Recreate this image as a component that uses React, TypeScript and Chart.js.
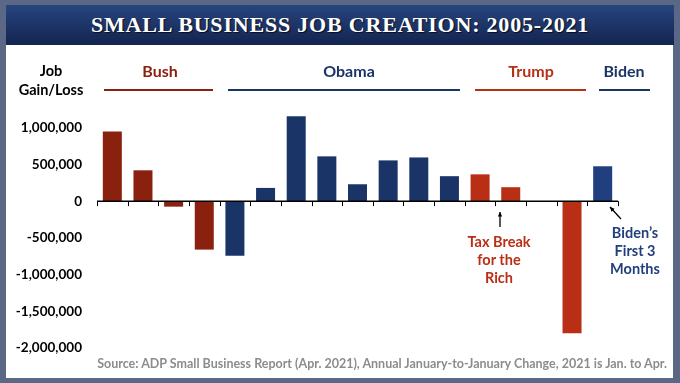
import React, { useEffect, useRef } from "react";
import { Chart, registerables } from "chart.js";

Chart.register(...registerables);

const years = ["2005","2006","2007","2008","2009","2010","2011","2012","2013","2014","2015","2016","2017","2018","2019","2020","2021"];
const jobChange: (number | null)[] = [950000, 420000, -75000, -660000, -745000, 180000, 1155000, 610000, 230000, 555000, 595000, 340000, 365000, 190000, null, -1800000, 475000];
const president = ["Bush","Bush","Bush","Bush","Obama","Obama","Obama","Obama","Obama","Obama","Obama","Obama","Trump","Trump","Trump","Trump","Biden"];
const presidentColors: Record<string, string> = {
  Bush: "#8a200e",
  Obama: "#1b3468",
  Trump: "#b92f15",
  Biden: "#213f7e",
};
const yTicks = [-2000000, -1500000, -1000000, -500000, 0, 500000, 1000000];

const FONT = "Lato, 'Open Sans', sans-serif";

const axisPlugin = {
  id: "zeroAxis",
  afterDatasetsDraw(chart: any) {
    const { ctx, scales, chartArea } = chart;
    const y0 = scales.y.getPixelForValue(0);
    const xs = scales.x;
    ctx.save();
    ctx.strokeStyle = "#000";
    ctx.lineWidth = 1.5;
    ctx.beginPath();
    ctx.moveTo(chartArea.left, y0);
    ctx.lineTo(chartArea.right, y0);
    ctx.stroke();
    ctx.lineWidth = 1;
    const n = years.length;
    for (let i = 0; i <= n; i++) {
      const x = i < n ? xs.getPixelForValue(i) - (xs.getPixelForValue(1) - xs.getPixelForValue(0)) / 2 : chartArea.right;
      const xr = Math.round(x) + 0.5;
      ctx.beginPath();
      ctx.moveTo(xr, y0);
      ctx.lineTo(xr, y0 + 5);
      ctx.stroke();
    }
    ctx.restore();
  },
};

function Arrow({ x1, y1, x2, y2 }: { x1: number; y1: number; x2: number; y2: number }) {
  const ang = Math.atan2(y2 - y1, x2 - x1);
  const h = 5;
  const p1 = [x2 - h * Math.cos(ang - 0.45), y2 - h * Math.sin(ang - 0.45)];
  const p2 = [x2 - h * Math.cos(ang + 0.45), y2 - h * Math.sin(ang + 0.45)];
  return (
    <g>
      <line x1={x1} y1={y1} x2={x2} y2={y2} stroke="#000" strokeWidth={1.3} />
      <polygon points={`${x2},${y2} ${p1[0]},${p1[1]} ${p2[0]},${p2[1]}`} fill="#000" />
    </g>
  );
}

export default function App() {
  const ref = useRef<HTMLCanvasElement>(null);
  useEffect(() => {
    if (!ref.current) return;
    const chart = new Chart(ref.current, {
      type: "bar",
      data: {
        labels: years,
        datasets: [
          {
            data: jobChange,
            backgroundColor: president.map((p) => presidentColors[p]),
            barPercentage: 0.62,
            categoryPercentage: 1,
          },
        ],
      },
      options: {
        responsive: false,
        animation: false,
        layout: { padding: { left: 0, top: 91, right: 62, bottom: 35 } },
        plugins: { legend: { display: false }, tooltip: { enabled: false } },
        scales: {
          x: {
            display: true,
            grid: { display: false, drawTicks: false },
            border: { display: false },
            ticks: { display: false },
            afterFit: (s: any) => { s.height = 0; },
          },
          y: {
            min: -2000000,
            max: 1500000,
            afterBuildTicks: (s: any) => { s.ticks = [...yTicks, 1500000].map((v) => ({ value: v })); },
            grid: { display: false, drawTicks: false },
            border: { display: false },
            ticks: {
              padding: 15,
              color: "#000",
              font: { family: FONT, size: 13.5, weight: "bold" },
              callback: (v: any) => (yTicks.includes(Number(v)) ? Number(v).toLocaleString("en-US") : ""),
            },
            afterFit: (s: any) => { s.width = 97; },
          },
        },
      },
      plugins: [axisPlugin],
    });
    return () => chart.destroy();
  }, []);

  const lbl = (text: string, cx: number, cy: number, color: string, size = 16): React.ReactNode => (
    <div style={{ position: "absolute", left: cx - 100, width: 200, top: cy - size * 0.65, textAlign: "center", color, fontFamily: FONT, fontWeight: 700, fontSize: size, lineHeight: `${size * 1.3}px`, whiteSpace: "nowrap" }}>{text}</div>
  );
  const line = (x1: number, x2: number, color: string) => (
    <div style={{ position: "absolute", left: x1, top: 89, width: x2 - x1, height: 2, background: color }} />
  );
  const multi = (lines: string[], cx: number, cy0: number, color: string) => (
    <div style={{ position: "absolute", left: cx - 60, width: 120, top: cy0 - 9, textAlign: "center", color, fontFamily: FONT, fontWeight: 700, fontSize: 14.5, lineHeight: "18px" }}>
      {lines.map((l, i) => <div key={i}>{l}</div>)}
    </div>
  );

  return (
    <div style={{ position: "fixed", left: 0, top: 0, width: 680, height: 383, background: "#5a6785", overflow: "hidden" }}>
      <div style={{ position: "absolute", left: 6, top: 5, width: 668, height: 40, background: "linear-gradient(#27457f, #13244f)", display: "flex", alignItems: "center", justifyContent: "center" }}>
        <span style={{ color: "#fff", fontFamily: "'Liberation Serif', 'Times New Roman', serif", fontWeight: 700, fontSize: 22, textShadow: "1px 1px 1px rgba(0,0,0,0.7)", letterSpacing: 0.8 }}>SMALL BUSINESS JOB CREATION: 2005-2021</span>
      </div>
      <div style={{ position: "absolute", left: 6, top: 45, width: 667, height: 333, background: "#fff" }} />
      <canvas ref={ref} width={680} height={383} style={{ position: "absolute", left: 0, top: 0 }} />
      {lbl("Job", 51, 71, "#000", 14.5)}
      {lbl("Gain/Loss", 51, 90, "#000", 14.5)}
      {lbl("Bush", 160, 71, presidentColors.Bush)}
      {lbl("Obama", 349, 71, presidentColors.Obama)}
      {lbl("Trump", 531, 71, presidentColors.Trump)}
      {lbl("Biden", 624, 71, presidentColors.Obama)}
      {line(104, 213, presidentColors.Bush)}
      {line(228, 460, presidentColors.Obama)}
      {line(475, 586, presidentColors.Trump)}
      {line(599, 650, presidentColors.Obama)}
      {multi(["Tax Break", "for the", "Rich"], 499, 242, "#b92f15")}
      {multi(["Biden\u2019s", "First 3", "Months"], 635, 233, "#213f7e")}
      <svg width={680} height={383} style={{ position: "absolute", left: 0, top: 0 }}>
        <Arrow x1={500} y1={227} x2={500} y2={212} />
        <Arrow x1={621} y1={219} x2={610} y2={207} />
      </svg>
      <div style={{ position: "absolute", right: 13, top: 356, color: "#8c8c8c", fontFamily: FONT, fontWeight: 700, fontSize: 12.5, whiteSpace: "nowrap" }}>
        Source: ADP Small Business Report (Apr. 2021), Annual January-to-January Change, 2021 is Jan. to Apr.
      </div>
    </div>
  );
}
